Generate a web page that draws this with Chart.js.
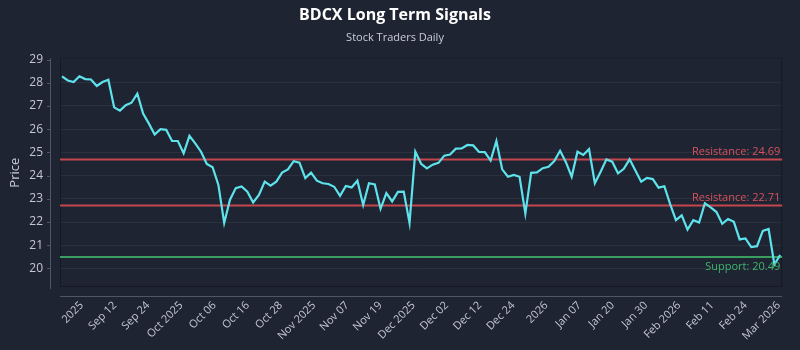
<!DOCTYPE html>
<html>
<head>
<meta charset="utf-8">
<script src="https://cdn.jsdelivr.net/npm/chart.js@4.4.1/dist/chart.umd.min.js"></script>
<style>
  html, body { margin: 0; padding: 0; background: #1e2432; }
</style>
</head>
<body>
<canvas id="chart" width="800" height="350"></canvas>
<script>
// daily closes, Sep 2025 -> Mar 2026
const prices = [
  28.28, 28.10, 28.03, 28.28, 28.16, 28.14, 27.86, 28.03, 28.13, 26.94,
  26.80, 27.03, 27.14, 27.53, 26.67, 26.24, 25.77, 26.00, 25.97, 25.49,
  25.49, 24.96, 25.71, 25.39, 25.03, 24.50, 24.36, 23.60, 21.96, 22.96,
  23.46, 23.53, 23.31, 22.84, 23.17, 23.74, 23.57, 23.74, 24.13, 24.27,
  24.62, 24.56, 23.89, 24.13, 23.78, 23.67, 23.64, 23.52, 23.13, 23.55,
  23.49, 23.78, 22.73, 23.67, 23.62, 22.57, 23.25, 22.89, 23.30, 23.31,
  21.96, 25.03, 24.51, 24.31, 24.47, 24.55, 24.86, 24.91, 25.16, 25.17,
  25.32, 25.30, 25.02, 25.01, 24.65, 25.49, 24.27, 23.95, 24.03, 23.95,
  22.36, 24.12, 24.14, 24.32, 24.38, 24.63, 25.07, 24.58, 23.95, 25.03,
  24.89, 25.14, 23.67, 24.17, 24.70, 24.60, 24.10, 24.29, 24.70, 24.22,
  23.74, 23.90, 23.85, 23.48, 23.54, 22.77, 22.08, 22.29, 21.67, 22.08,
  21.98, 22.81, 22.63, 22.43, 21.92, 22.13, 22.01, 21.25, 21.29, 20.92,
  20.96, 21.62, 21.70, 20.17, 20.58
];

const tickLabels = ['2025', 'Sep 12', 'Sep 24', 'Oct 2025', 'Oct 06', 'Oct 16', 'Oct 28',
  'Nov 2025', 'Nov 07', 'Nov 19', 'Dec 2025', 'Dec 02', 'Dec 12', 'Dec 24', '2026',
  'Jan 07', 'Jan 20', 'Jan 30', 'Feb 2026', 'Feb 11', 'Feb 24', 'Mar 2026'];
const priceTicks = [20, 21, 22, 23, 24, 25, 26, 27, 28, 29];

const levelNames = ['Resistance', 'Resistance', 'Support'];
const levelValues = [24.69, 22.71, 20.49];

const FONT = "'Open Sans', 'Noto Sans', sans-serif";
const tickStart = 3.4, tickStep = 5.73;

// frame, offset axis lines and the signal levels
const signalLines = {
  id: 'signalLines',
  beforeDatasetsDraw(chart) {
    const { ctx, chartArea: a, scales: { y } } = chart;
    ctx.save();
    ctx.strokeStyle = '#141925';
    ctx.lineWidth = 1;
    ctx.strokeRect(a.left + 0.5, a.top + 0.5, a.right - a.left - 1, a.bottom - a.top - 1);

    ctx.strokeStyle = '#4f5666';
    ctx.beginPath();
    ctx.moveTo(a.left - 9.5, a.top);
    ctx.lineTo(a.left - 9.5, a.bottom + 2);
    ctx.moveTo(a.left, a.bottom + 9.5);
    ctx.lineTo(a.right, a.bottom + 9.5);
    priceTicks.forEach(v => {
      const py = Math.round(y.getPixelForValue(v)) + 0.5;
      ctx.moveTo(a.left - 13, py);
      ctx.lineTo(a.left - 9.5, py);
    });
    ctx.stroke();

    ctx.lineWidth = 2;
    levelValues.forEach((v, i) => {
      ctx.strokeStyle = levelNames[i] === 'Support' ? '#3a9e5e' : '#c4464f';
      const py = y.getPixelForValue(v);
      ctx.beginPath();
      ctx.moveTo(a.left, py);
      ctx.lineTo(a.right, py);
      ctx.stroke();
    });
    ctx.restore();
  },
  afterDatasetsDraw(chart) {
    const { ctx, chartArea: a, scales: { y } } = chart;
    ctx.save();
    ctx.font = '11px ' + FONT;
    ctx.textAlign = 'right';
    levelValues.forEach((v, i) => {
      const py = y.getPixelForValue(v);
      const txt = levelNames[i] + ': ' + v.toFixed(2);
      if (levelNames[i] === 'Support') {
        ctx.fillStyle = '#3fb56c';
        ctx.textBaseline = 'top';
        ctx.fillText(txt, a.right - 2, py + 4);
      } else {
        ctx.fillStyle = '#d9535d';
        ctx.textBaseline = 'bottom';
        ctx.fillText(txt, a.right - 2, py - 2);
      }
    });
    ctx.restore();
  }
};

new Chart(document.getElementById('chart'), {
  type: 'line',
  data: {
    datasets: [{
      data: prices.map((v, i) => ({ x: i, y: v })),
      borderColor: '#5ee3ec',
      borderWidth: 2.2,
      pointRadius: 0,
      tension: 0
    }]
  },
  options: {
    responsive: false,
    animation: false,
    layout: { padding: { left: 0, right: 10, top: 0, bottom: 0 } },
    plugins: {
      legend: { display: false },
      tooltip: { enabled: false },
      title: {
        display: true,
        text: 'BDCX Long Term Signals',
        color: '#ffffff',
        font: { family: FONT, size: 16, weight: 'bold' },
        padding: { top: 6, bottom: 6 }
      },
      subtitle: {
        display: true,
        text: 'Stock Traders Daily',
        color: '#c9ced8',
        font: { family: FONT, size: 11 },
        padding: { top: 0, bottom: 14 }
      }
    },
    scales: {
      x: {
        type: 'linear',
        min: -0.35,
        max: prices.length - 0.65,
        afterBuildTicks: s => { s.ticks = tickLabels.map((t, i) => ({ value: tickStart + i * tickStep })); },
        afterFit: s => { s.height = 63; },
        grid: { display: false, drawTicks: false },
        border: { display: false },
        ticks: {
          autoSkip: false,
          maxRotation: 45,
          minRotation: 45,
          padding: 12,
          color: '#c3c8d2',
          font: { family: FONT, size: 11 },
          callback: (v, i) => tickLabels[i]
        }
      },
      y: {
        min: 19.2,
        max: 29.05,
        afterBuildTicks: s => { s.ticks = priceTicks.map(v => ({ value: v })); },
        afterFit: s => { s.width = 60; },
        grid: { color: 'rgba(255,255,255,0.06)', drawTicks: false },
        border: { display: false },
        title: {
          display: true,
          text: 'Price',
          color: '#c9ced8',
          font: { family: FONT, size: 13 },
          padding: { top: 7, bottom: 6 }
        },
        ticks: {
          padding: 17,
          color: '#c3c8d2',
          font: { family: FONT, size: 12 }
        }
      }
    }
  },
  plugins: [signalLines]
});
</script>
</body>
</html>
